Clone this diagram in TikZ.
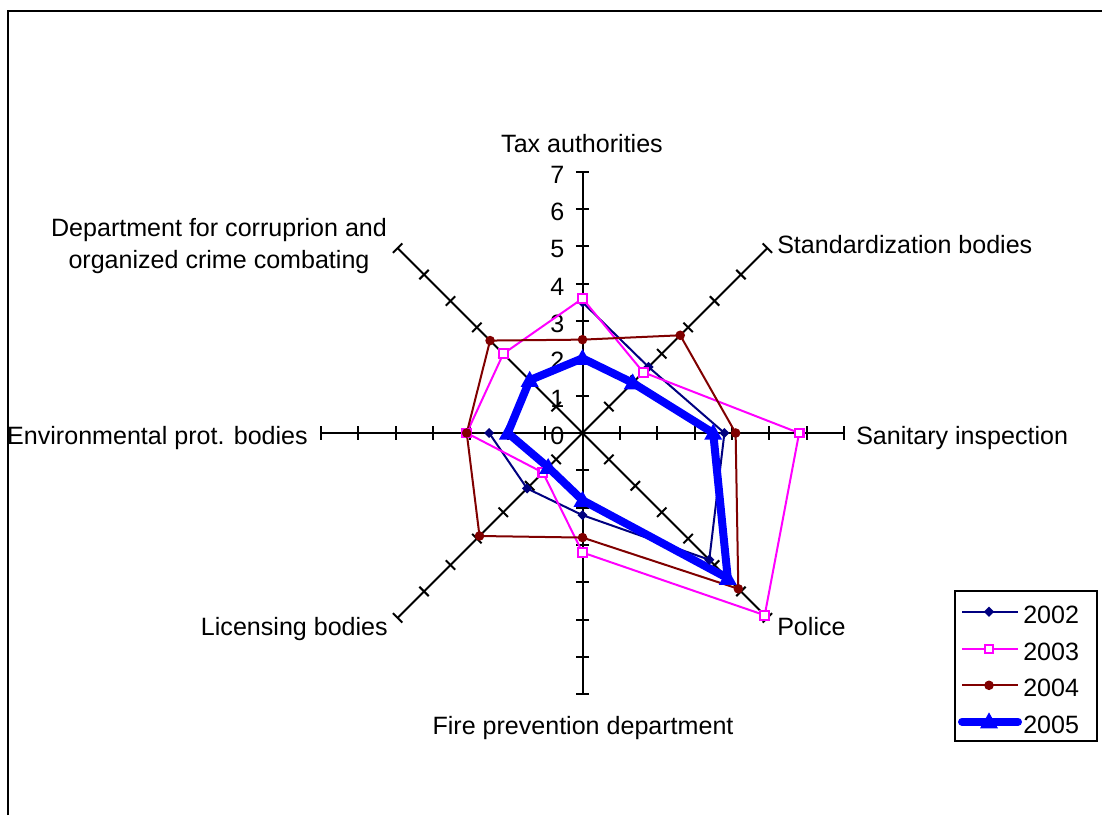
\documentclass[tikz,border=0pt]{standalone}
\usepackage{fontspec}
\setmainfont{Liberation Sans}
\usepackage{xcolor}
\definecolor{yrtwo}{HTML}{000080}
\definecolor{yrthree}{HTML}{FF00FF}
\definecolor{yrfour}{HTML}{800000}
\definecolor{yrfive}{HTML}{0000FF}
\usepackage{tikz}
\usetikzlibrary{positioning}
\tikzset{
  axisline/.style={black,line width=1.5pt},
  lbl/.style={inner sep=0pt,font=\fontsize{18.8}{24.2}\selectfont},
}
% series markers
\newcommand{\mkdiam}[1]{\fill[yrtwo] #1 ++(0pt,3.8pt) -- ++(3.8pt,-3.8pt) -- ++(-3.8pt,-3.8pt) -- ++(-3.8pt,3.8pt) -- cycle;}
\newcommand{\mksq}[1]{\filldraw[yrthree,fill=white,line width=1.6pt] #1 ++(-3.3pt,-3.3pt) rectangle ++(6.6pt,6.6pt);}
\newcommand{\mkdot}[1]{\fill[yrfour] #1 circle (3.6pt);}
\newcommand{\mktri}[1]{\fill[yrfive] #1 ++(0pt,7pt) -- ++(6.75pt,-12pt) -- ++(-13.5pt,0pt) -- cycle;}

\begin{document}
\begin{tikzpicture}[x=0.75pt,y=0.75pt]
\useasboundingbox (0,0) rectangle (1102,815);
% chart frame (cut off by the page at right and bottom)
\draw[line width=1.5pt] (8,0) -- (8,804) -- (1102,804);
\begin{scope}[shift={(582.5,382)},x=28.01pt,y=28.01pt]
% spokes with tick marks
\foreach \a in {0,45,...,315}{
  \draw[axisline] (0,0) -- (\a:7);
  \foreach \i in {1,...,7}
    \draw[axisline] (\a:\i) ++(\a+90:5pt) -- ++(\a-90:10pt);
}
% scale
\foreach \i in {0,...,7}
  \node[lbl,anchor=base east] (num\i) at ([xshift=-13.5pt,yshift=-8.6pt]0,\i) {\i};
% series lines (2002 has no value for the corruption dept.)
\draw[yrtwo,line width=1.5pt,line join=round] (90:3.5) -- (45:2.5) -- (0:3.8) -- (-45:4.8)
  -- (-90:2.2) -- (-135:2.1) -- (180:2.5);
\draw[yrthree,line width=1.5pt,line join=round] (90:3.6) -- (45:2.3) -- (0:5.8) -- (-45:6.9)
  -- (-90:3.2) -- (-135:1.5) -- (180:3.1) -- (135:3.0) -- cycle;
\draw[yrfour,line width=1.5pt,line join=round] (90:2.5) -- (45:3.7) -- (0:4.1) -- (-45:5.9)
  -- (-90:2.8) -- (-135:3.9) -- (180:3.1) -- (135:3.5) -- cycle;
\draw[yrfive,line width=6pt,line join=round] (90:2.0) -- (45:1.9) -- (0:3.5) -- (-45:5.5)
  -- (-90:1.8) -- (-135:1.3) -- (180:2.0) -- (135:2.0) -- cycle;
% markers
\foreach \p in {(90:3.5),(45:2.5),(0:3.8),(-45:4.8),(-90:2.2),(-135:2.1),(180:2.5)}{
  \mkdiam{\p}}
\foreach \p in {(90:3.6),(45:2.3),(0:5.8),(-45:6.9),(-90:3.2),(-135:1.5),(180:3.1),(135:3.0)}{
  \mksq{\p}}
\foreach \p in {(90:2.5),(45:3.7),(0:4.1),(-45:5.9),(-90:2.8),(-135:3.9),(180:3.1),(135:3.5)}{
  \mkdot{\p}}
\foreach \p in {(90:2.0),(45:1.9),(0:3.5),(-45:5.5),(-90:1.8),(-135:1.3),(180:2.0),(135:2.0)}{
  \mktri{\p}}
\end{scope}
% spoke labels
\node[lbl,anchor=base] (tax) at (582,662.5) {Tax authorities};
\node[lbl,anchor=base west] (stand) at (777,561.7) {Standardization bodies};
\node[lbl,anchor=base west] (sanit) at (856,371) {Sanitary inspection};
\node[lbl,anchor=base west] (police) at (777,179.5) {Police};
\node[lbl,anchor=base] (fire) at (583,80.5) {Fire prevention department};
\node[lbl,anchor=base east] (licens) at (388,179.5) {Licensing bodies};
\node[lbl,anchor=base east] (environ) at (308,371) {Environmental prot. bodies};
\node[lbl,anchor=base,align=center] (corrupt) at (219,546)
  {Department for corruprion and\\organized crime combating};
% legend
\draw[line width=1.5pt] (955,74) rectangle (1097,224);
\draw[yrtwo,line width=1.5pt] (962,203.3) -- (1018,203.3);
\mkdiam{(989,203.3)}
\draw[yrthree,line width=1.5pt] (962,166) -- (1018,166);
\mksq{(989,166)}
\draw[yrfour,line width=1.5pt] (962,129.7) -- (1018,129.7);
\mkdot{(989,129.7)}
\draw[yrfive,line width=6pt,line cap=round] (962,93.3) -- (1018,93.3);
\mktri{(989,93.3)}
\node[lbl,anchor=west] (leg02) at (1023,200.3) {2002};
\node[lbl,anchor=west] (leg03) at (1023,163) {2003};
\node[lbl,anchor=west] (leg04) at (1023,126.7) {2004};
\node[lbl,anchor=west] (leg05) at (1023,90.3) {2005};
\end{tikzpicture}
\end{document}
